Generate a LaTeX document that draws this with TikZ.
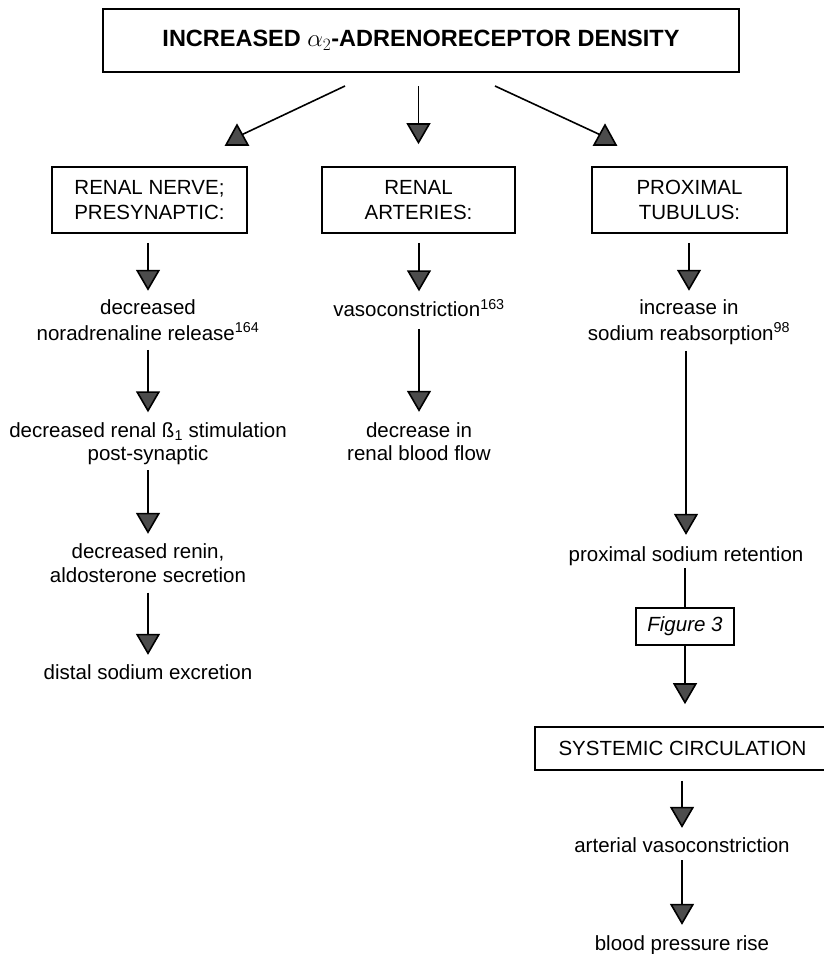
\documentclass[tikz,border=0pt]{standalone}
\usepackage{fontspec}
\setmainfont{Liberation Sans}
\usetikzlibrary{arrows.meta,calc}
\definecolor{headgray}{gray}{0.3}
\newcommand{\fsz}{\fontsize{20.5}{23.5}\selectfont}
\newcommand{\bsz}{\fontsize{20.5}{25}\selectfont}
\begin{document}
\begin{tikzpicture}[x=1pt,y=-1pt,
  box/.style={draw,line width=1.7pt,inner sep=0pt,align=center,font=\bsz},
  txt/.style={inner sep=0pt,align=center,font=\fsz},
  conn/.style={line width=1.6pt},
  arr/.style={conn,-{Triangle[width=24pt,length=21pt,fill=headgray]}},
  head/.style={conn,fill=headgray,line join=miter}
  ]
\useasboundingbox (0,0) rectangle (824,954);
% top box
\node[box, line width=2pt, minimum width=636pt, minimum height=63pt,
      font=\fontsize{23.5}{27}\selectfont\bfseries] (top) at (421,40.5)
      {INCREASED $\alpha_2$-ADRENORECEPTOR DENSITY};
% second-level boxes
\node[box, minimum width=195pt, minimum height=66pt] (b2) at (149.5,200) {RENAL NERVE;\\PRESYNAPTIC:};
\node[box, minimum width=193pt, minimum height=66pt] (b3) at (418.5,200) {RENAL\\ARTERIES:};
\node[box, minimum width=195pt, minimum height=66pt] (b4) at (689.5,200) {PROXIMAL\\TUBULUS:};
% left column
\node[txt] (nA) at (148,323) {\strut decreased\\\strut noradrenaline release\textsuperscript{164}};
\node[txt] (nB) at (148,444.5) {\strut decreased renal ß\textsubscript{1} stimulation\\\strut post-synaptic};
\node[txt] (nC) at (148,566) {\strut decreased renin,\\\strut aldosterone secretion};
\node[txt] (nD) at (148,674.3) {\strut distal sodium excretion};
% middle column
\node[txt] (mA) at (419,311.3) {\strut vasoconstriction\textsuperscript{163}};
\node[txt] (mB) at (419,444.5) {\strut decrease in\\\strut renal blood flow};
% right column
\node[txt] (rA) at (689,323) {\strut increase in\\\strut sodium reabsorption\textsuperscript{98}};
\node[txt] (rB) at (686,556.3) {\strut proximal sodium retention};
\node[box, line width=1.5pt, minimum width=98pt, minimum height=37pt, font=\bsz\itshape] (fig) at (685,626.5) {Figure 3};
\node[box, minimum width=295pt, minimum height=43pt] (sys) at (682.5,748.5) {SYSTEMIC CIRCULATION};
\node[txt] (rC) at (682,847.3) {\strut arterial vasoconstriction};
\node[txt] (rD) at (682,945.3) {\strut blood pressure rise};
% connectors from top box
\coordinate (hl) at (237,137);
\coordinate (hr) at (605,137);
\draw[conn] ($(top.south)+(-76,13)$) -- (hl);
\draw[conn] ($(top.south)+(74,13)$) -- (hr);
\filldraw[head] ($(hl)+(0,-12)$) -- ($(hl)+(11,8)$) -- ($(hl)+(-11,8)$) -- cycle;
\filldraw[head] ($(hr)+(0,-12)$) -- ($(hr)+(11,8)$) -- ($(hr)+(-11,8)$) -- cycle;
\draw[arr, shorten <=13pt, shorten >=22pt] (top.south -| b3.north) -- (b3.north);
% left column arrows
\draw[arr, shorten <=9pt, shorten >=7.5pt] (nA.north |- b2.south) -- (nA.north);
\draw[arr, shorten <=2pt, shorten >=8.5pt] (nA.south) -- (nB.north);
\draw[arr, shorten <=2pt, shorten >=8.5pt] (nB.south) -- (nC.north);
\draw[arr, shorten <=3pt, shorten >=7.5pt] (nC.south) -- (nD.north);
% middle column arrows
\draw[arr, shorten <=9pt, shorten >=7.5pt] (mA.north |- b3.south) -- (mA.north);
\draw[arr, shorten <=5pt, shorten >=9pt] (mA.south) -- (mB.north);
% right column arrows
\draw[arr, shorten <=9pt, shorten >=7.5pt] (rA.north |- b4.south) -- (rA.north);
\draw[arr, shorten <=3pt, shorten >=9.5pt] (rA.south -| rB.north) -- (rB.north);
\draw[conn] (fig.north |- rB.south) -- (fig.north);
\draw[arr, shorten >=22pt] (fig.south) -- (fig.south |- sys.north);
\draw[arr, shorten <=10pt, shorten >=7.5pt] (rC.north |- sys.south) -- (rC.north);
\draw[arr, shorten <=1pt, shorten >=8.5pt] (rC.south) -- (rD.north);
\end{tikzpicture}
\end{document}
